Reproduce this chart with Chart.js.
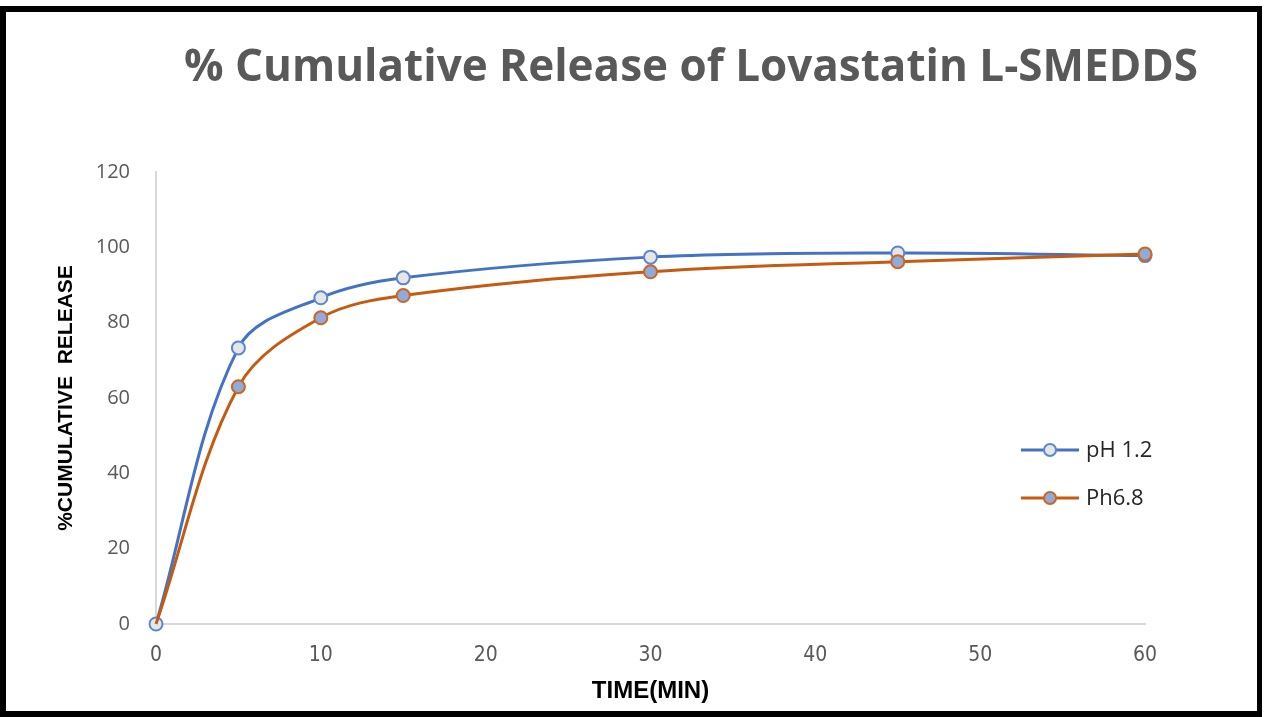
<!DOCTYPE html>
<html>
<head>
<meta charset="utf-8">
<script src="https://cdn.jsdelivr.net/npm/chart.js@4.4.1/dist/chart.umd.min.js"></script>
<style>
  html, body { margin: 0; padding: 0; background: #ffffff; }
  #wrap { position: absolute; left: 0; top: 0; width: 1266px; height: 717px; }
  #frame {
    position: absolute; left: 0; top: 6px; width: 1262px; height: 711px;
    box-sizing: border-box; border-style: solid; border-color: #000;
    border-width: 6px 5px 6px 6px; pointer-events: none;
  }
</style>
</head>
<body>
<div id="wrap">
  <canvas id="chart" width="1266" height="717"></canvas>
  <div id="frame"></div>
</div>
<script>
// Sampling times (minutes)
const times = [0, 5, 10, 15, 30, 45, 60];
// % cumulative release in each medium
const releasePH12 = [0, 73.3, 86.6, 91.9, 97.4, 98.5, 97.8];
const releasePH68 = [0, 63.0, 81.3, 87.2, 93.5, 96.2, 98.2];
const seriesNames = ['pH 1.2', 'Ph6.8'];
const yTicks = [0, 20, 40, 60, 80, 100, 120];
const xTicks = [0, 10, 20, 30, 40, 50, 60];
const chartTitle = '% Cumulative Release of Lovastatin L-SMEDDS';
const xTitle = 'TIME(MIN)';
const yTitle = '%CUMULATIVE  RELEASE';

const BLUE = '#4472C4';
const ORANGE = '#C55A11';

const toPoints = (vals) => times.map((t, i) => ({ x: t, y: vals[i] }));

// Chart heading drawn across the top of the canvas
const headingPlugin = {
  id: 'heading',
  afterDraw(chart) {
    const ctx = chart.ctx;
    ctx.save();
    ctx.font = 'bold 44px "Open Sans", sans-serif';
    ctx.fillStyle = '#595959';
    ctx.textAlign = 'center';
    ctx.textBaseline = 'middle';
    ctx.fillText(chartTitle, 691, 68);
    ctx.restore();
  }
};

// Legend placed inside the plot on the right
const sideLegendPlugin = {
  id: 'sideLegend',
  afterDraw(chart) {
    const ctx = chart.ctx;
    const x0 = 1021, x1 = 1079, tx = 1086;
    const rows = [450, 498];
    ctx.save();
    chart.data.datasets.forEach((ds, i) => {
      const y = rows[i];
      ctx.strokeStyle = ds.borderColor;
      ctx.lineWidth = 3;
      ctx.beginPath();
      ctx.moveTo(x0, y);
      ctx.lineTo(x1, y);
      ctx.stroke();
      ctx.beginPath();
      ctx.arc((x0 + x1) / 2, y, 6, 0, Math.PI * 2);
      ctx.fillStyle = ds.pointBackgroundColor;
      ctx.fill();
      ctx.lineWidth = 2;
      ctx.strokeStyle = ds.pointBorderColor;
      ctx.stroke();
      ctx.font = '22px "Open Sans", sans-serif';
      ctx.fillStyle = '#262626';
      ctx.textAlign = 'left';
      ctx.textBaseline = 'middle';
      ctx.fillText(ds.label, tx, y + 1);
    });
    ctx.restore();
  }
};

new Chart(document.getElementById('chart'), {
  type: 'line',
  data: {
    datasets: [
      {
        label: seriesNames[0],
        data: toPoints(releasePH12),
        borderColor: BLUE,
        borderWidth: 3,
        pointBackgroundColor: '#E7E6E6',
        pointBorderColor: '#5B87D0',
        pointBorderWidth: 2,
        pointRadius: 6.5,
        tension: 0.35,
        clip: false,
        order: 1
      },
      {
        label: seriesNames[1],
        data: toPoints(releasePH68),
        borderColor: ORANGE,
        borderWidth: 3,
        pointBackgroundColor: '#8FAADC',
        pointBorderColor: '#D0651E',
        pointBorderWidth: 2,
        // no marker at the origin, the pH 1.2 marker shows there
        pointRadius: (c) => (c.dataIndex === 0 ? 0 : 6.5),
        tension: 0.35,
        clip: false,
        order: 0
      }
    ]
  },
  options: {
    responsive: false,
    animation: false,
    layout: { padding: { left: 54, right: 121, top: 172, bottom: 11 } },
    plugins: {
      legend: { display: false },
      title: { display: false },
      tooltip: { enabled: false }
    },
    scales: {
      x: {
        type: 'linear',
        min: 0,
        max: 60,
        afterBuildTicks(scale) { scale.ticks = xTicks.map(v => ({ value: v })); },
        afterFit(scale) { scale.height = 82; },
        grid: { display: false, drawTicks: false },
        border: { display: true, color: '#D9D9D9', width: 2 },
        ticks: {
          padding: 19,
          color: '#595959',
          font: { family: '"Liberation Sans Narrow", "DejaVu Sans Condensed", sans-serif', size: 21 }
        },
        title: {
          display: true,
          text: xTitle,
          color: '#000',
          padding: { top: 0, bottom: 0 },
          font: { family: '"Liberation Sans Narrow", sans-serif', size: 24, weight: 'bold' }
        }
      },
      y: {
        min: 0,
        max: 120,
        afterBuildTicks(scale) { scale.ticks = yTicks.map(v => ({ value: v })); },
        afterFit(scale) { scale.width = 102; },
        grid: { display: false, drawTicks: false },
        border: { display: true, color: '#D9D9D9', width: 2 },
        ticks: {
          padding: 26,
          color: '#595959',
          font: { family: '"Open Sans", sans-serif', size: 20 }
        },
        title: {
          display: true,
          text: yTitle,
          color: '#000',
          padding: { top: 0, bottom: 0 },
          font: { family: '"Liberation Sans Narrow", sans-serif', size: 21, weight: 'bold' }
        }
      }
    }
  },
  plugins: [headingPlugin, sideLegendPlugin]
});
</script>
</body>
</html>
